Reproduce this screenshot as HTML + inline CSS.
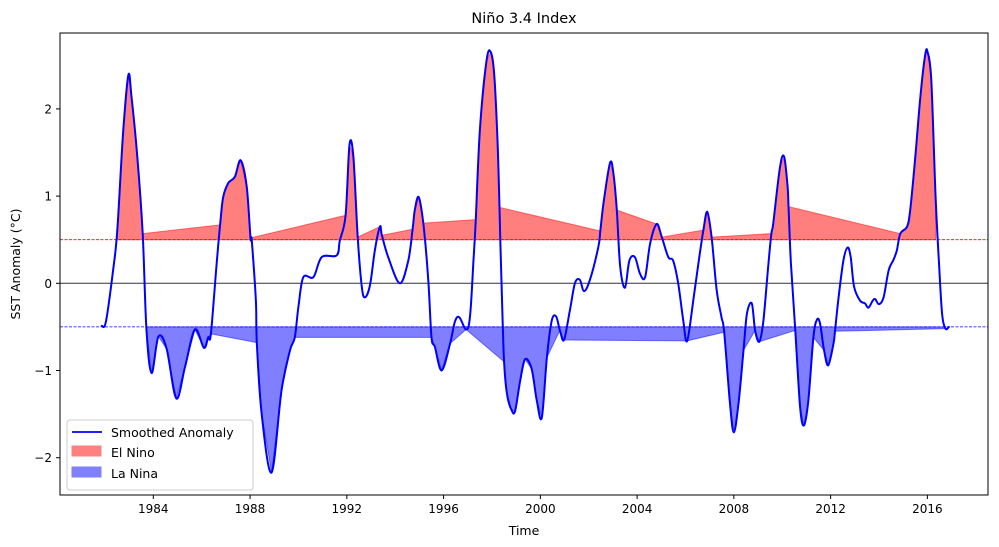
<!DOCTYPE html>
<html><head><meta charset="utf-8"><style>
body{margin:0;background:#fff;}
svg{display:block;font-family:"DejaVu Sans","Liberation Sans",sans-serif;}
</style></head><body>
<svg id="chart" width="999" height="547" viewBox="0 0 999 547" xmlns="http://www.w3.org/2000/svg">
<rect x="0" y="0" width="999" height="547" fill="#fff"/>
<text x="524" y="23" font-size="14.5" text-anchor="middle" fill="#000">Niño 3.4 Index</text>
<text x="524" y="535" font-size="12.5" text-anchor="middle" fill="#000">Time</text>
<text x="20" y="264" font-size="12.5" text-anchor="middle" fill="#000" transform="rotate(-90 20 264)">SST Anomaly (°C)</text>
<g id="plot"></g>
<rect x="60" y="33" width="928" height="462" fill="none" stroke="#000" stroke-width="1"/>
<g id="legend">
<rect x="67" y="420" width="186" height="70" rx="3" fill="#fff" fill-opacity="0.85" stroke="#ccc"/>
<line x1="72" y1="432" x2="102" y2="432" stroke="#0000ff" stroke-width="1.7"/>
<text x="111" y="437" font-size="12.5">Smoothed Anomaly</text>
<rect x="72" y="446" width="29" height="10" fill="#ff8080" stroke="#ff8080"/>
<text x="111" y="457" font-size="12.5">El Nino</text>
<rect x="72" y="467" width="29" height="10" fill="#8080ff" stroke="#8080ff"/>
<text x="111" y="478" font-size="12.5">La Nina</text>
</g>
</svg>
<script>
const years = [1981.87,1982.04,1982.34,1982.51,1982.76,1982.97,1983.10,1983.34,1983.56,1983.72,1983.93,1984.21,1984.55,1984.95,1985.31,1985.72,1986.09,1986.27,1986.38,1986.62,1986.76,1986.89,1987.10,1987.37,1987.61,1987.86,1988.02,1988.07,1988.24,1988.28,1988.48,1988.89,1989.30,1989.65,1989.85,1990.00,1990.20,1990.62,1990.96,1991.58,1991.71,1991.95,1992.11,1992.27,1992.45,1992.62,1992.75,1992.96,1993.16,1993.37,1993.45,1993.71,1994.19,1994.54,1994.72,1994.81,1994.97,1995.16,1995.37,1995.50,1995.64,1995.92,1996.27,1996.47,1996.65,1996.93,1997.09,1997.23,1997.33,1997.50,1997.78,1997.95,1998.09,1998.23,1998.31,1998.35,1998.45,1998.50,1998.62,1998.82,1998.96,1999.17,1999.37,1999.64,1999.85,2000.06,2000.27,2000.47,2000.65,2000.81,2000.98,2001.22,2001.43,2001.63,2001.81,2002.06,2002.40,2002.48,2002.61,2002.88,2003.02,2003.16,2003.30,2003.50,2003.68,2003.91,2004.12,2004.33,2004.54,2004.81,2005.02,2005.29,2005.49,2005.70,2005.91,2006.07,2006.34,2006.55,2006.74,2006.90,2007.08,2007.29,2007.49,2007.60,2007.84,2008.00,2008.19,2008.40,2008.54,2008.74,2008.88,2009.05,2009.22,2009.43,2009.55,2009.63,2009.91,2010.08,2010.22,2010.26,2010.36,2010.54,2010.74,2010.90,2011.08,2011.29,2011.43,2011.56,2011.73,2011.90,2012.12,2012.18,2012.33,2012.53,2012.70,2012.83,2012.97,2013.22,2013.42,2013.56,2013.74,2013.84,2014.00,2014.19,2014.40,2014.60,2014.74,2014.88,2015.16,2015.29,2015.50,2015.71,2015.91,2016.01,2016.16,2016.34,2016.48,2016.61,2016.75,2016.89];
const anomaly = [-0.49,-0.44,0.15,0.61,1.76,2.39,2.14,1.45,0.57,-0.54,-1.03,-0.61,-0.75,-1.32,-0.96,-0.53,-0.74,-0.62,-0.58,0.23,0.67,0.99,1.15,1.22,1.41,1.11,0.52,0.49,-0.2,-0.68,-1.5,-2.17,-1.23,-0.77,-0.62,-0.27,0.07,0.07,0.3,0.32,0.49,0.78,1.59,1.45,0.53,-0.04,-0.16,-0.02,0.38,0.65,0.55,0.3,0.0,0.26,0.62,0.84,0.99,0.69,0.03,-0.62,-0.73,-1.0,-0.69,-0.44,-0.39,-0.53,-0.39,0.23,0.73,1.76,2.56,2.65,2.41,1.64,0.87,0.45,-0.5,-0.9,-1.27,-1.46,-1.46,-1.11,-0.87,-0.98,-1.34,-1.54,-0.85,-0.43,-0.38,-0.54,-0.65,-0.31,0.0,0.04,-0.09,0.05,0.42,0.6,0.92,1.38,1.26,0.84,0.19,-0.05,0.26,0.3,0.11,0.07,0.46,0.68,0.53,0.3,0.26,0.0,-0.43,-0.66,-0.16,0.26,0.61,0.82,0.53,-0.08,-0.39,-0.56,-1.38,-1.71,-1.38,-0.77,-0.35,-0.23,-0.54,-0.67,-0.43,0.23,0.57,0.69,1.34,1.45,1.11,0.88,0.23,-0.54,-1.42,-1.63,-1.34,-0.62,-0.42,-0.46,-0.77,-0.94,-0.69,-0.55,-0.16,0.26,0.41,0.3,-0.04,-0.2,-0.23,-0.28,-0.2,-0.18,-0.24,-0.16,0.15,0.27,0.38,0.57,0.65,0.84,1.45,2.14,2.62,2.65,2.33,0.99,0.23,-0.35,-0.52,-0.5];
const xTicks = [1984,1988,1992,1996,2000,2004,2008,2012,2016];
const yTicks = [-2,-1,0,1,2];
const elNinoThreshold = 0.5;
const laNinaThreshold = -0.5;

const NS = 'http://www.w3.org/2000/svg';
const X0 = 60, X1 = 988, Y0 = 33, Y1 = 495;
function xs(yr){ return 153.3 + (yr - 1984) * 24.19; }
function ys(v){ return 283.3 - v * 87.2; }
const plot = document.getElementById('plot');
const svg = document.getElementById('chart');
function mk(tag, attrs, parent){
  const e = document.createElementNS(NS, tag);
  for (const k in attrs) e.setAttribute(k, attrs[k]);
  (parent || plot).appendChild(e);
  return e;
}

let ex = [], ey = [], lx = [], ly = [];
for (let i = 0; i < years.length; i++) {
  if (anomaly[i] > elNinoThreshold) { ex.push(years[i]); ey.push(anomaly[i]); }
  if (anomaly[i] < laNinaThreshold) { lx.push(years[i]); ly.push(anomaly[i]); }
}
function fillPts(xa, ya, th){
  let p = [];
  for (let i = 0; i < xa.length; i++) p.push(xs(xa[i]).toFixed(1) + ',' + ys(ya[i]).toFixed(1));
  for (let i = xa.length - 1; i >= 0; i--) p.push(xs(xa[i]).toFixed(1) + ',' + ys(th).toFixed(1));
  return p.join(' ');
}
const ef = mk('polygon', {points: fillPts(ex, ey, elNinoThreshold), fill: '#ff0000', 'fill-opacity': 0.5, stroke: '#ff0000', 'stroke-opacity': 0.5, 'stroke-width': 1});


const lf = mk('polygon', {points: fillPts(lx, ly, laNinaThreshold), fill: '#0000ff', 'fill-opacity': 0.5, stroke: '#0000ff', 'stroke-opacity': 0.5, 'stroke-width': 1});



const zl = mk('line', {x1: X0, x2: X1, y1: ys(0), y2: ys(0), stroke: '#333', 'stroke-width': 1});


const el = mk('line', {x1: X0, x2: X1, y1: ys(elNinoThreshold), y2: ys(elNinoThreshold), stroke: '#ff0000', 'stroke-width': 0.8, 'stroke-dasharray': '3,1.5'});


const ll = mk('line', {x1: X0, x2: X1, y1: ys(laNinaThreshold), y2: ys(laNinaThreshold), stroke: '#0000ff', 'stroke-width': 0.8, 'stroke-dasharray': '3,1.5'});



// smoothed anomaly line (Catmull-Rom through the data points)
const P = years.map((y, i) => [xs(y), ys(anomaly[i])]);
let d = 'M' + P[0][0].toFixed(1) + ',' + P[0][1].toFixed(1);
for (let i = 0; i < P.length - 1; i++) {
  const p0 = P[Math.max(0, i - 1)], p1 = P[i], p2 = P[i + 1], p3 = P[Math.min(P.length - 1, i + 2)];
  const c1x = p1[0] + (p2[0] - p0[0]) / 6, c1y = p1[1] + (p2[1] - p0[1]) / 6;
  const c2x = p2[0] - (p3[0] - p1[0]) / 6, c2y = p2[1] - (p3[1] - p1[1]) / 6;
  d += ' C' + c1x.toFixed(1) + ',' + c1y.toFixed(1) + ' ' + c2x.toFixed(1) + ',' + c2y.toFixed(1) + ' ' + p2[0].toFixed(1) + ',' + p2[1].toFixed(1);
}
const line = mk('path', {d: d, fill: 'none', stroke: '#0000ff', 'stroke-width': 2, 'stroke-linejoin': 'round', 'stroke-linecap': 'round'});



xTicks.forEach(t => {
  const x = xs(t);
  const tk = mk('line', {x1: x, x2: x, y1: Y1, y2: Y1 + 4, stroke: '#000', 'stroke-width': 1}, svg);
  
  
  const tx = mk('text', {x: x, y: Y1 + 18, 'font-size': 12, 'text-anchor': 'middle'}, svg);
  tx.textContent = t;
  
  
});
yTicks.forEach(t => {
  const y = ys(t);
  const tk = mk('line', {x1: X0 - 4, x2: X0, y1: y, y2: y, stroke: '#000', 'stroke-width': 1}, svg);
  
  
  const tx = mk('text', {x: X0 - 8, y: y + 4.5, 'font-size': 12, 'text-anchor': 'end'}, svg);
  tx.textContent = t < 0 ? '\u2212' + Math.abs(t) : String(t);
  
  
});
</script>
</body></html>
